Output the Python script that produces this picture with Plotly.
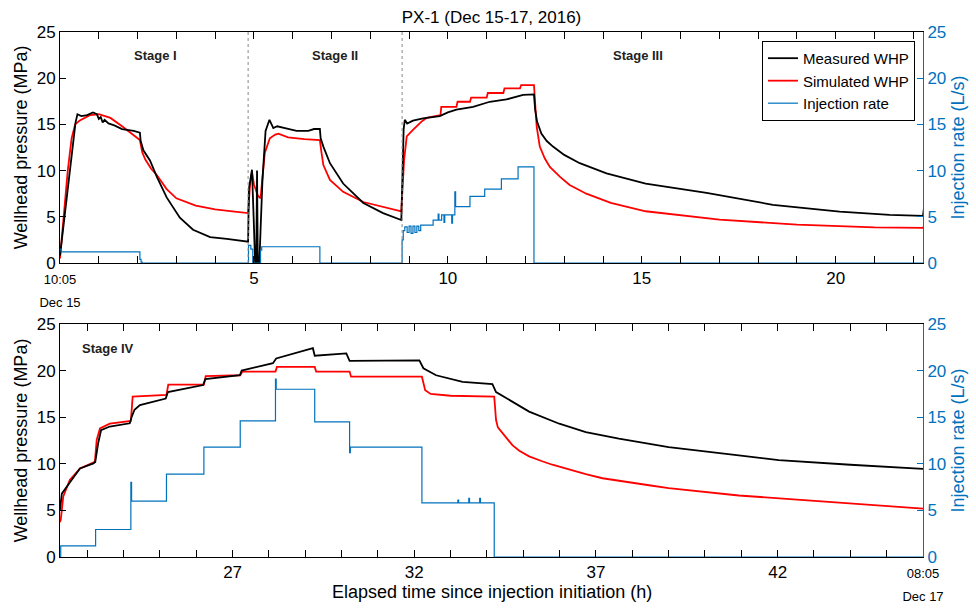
import plotly.graph_objects as go

# ---------------- data (elapsed hours since 10:05 Dec 15) ----------------
meas_t = [0.0, 0.1, 0.2, 0.3, 0.4, 0.45, 0.55, 0.7, 0.85, 0.95, 1.0, 1.05, 1.1, 1.15, 1.25, 1.4, 1.6, 1.9, 2.06,
          2.08, 2.15, 2.32, 2.5, 2.75, 3.09, 3.43, 3.87, 4.3, 4.85,
          4.87, 4.95, 5.0, 5.03, 5.06, 5.08, 5.1, 5.14, 5.17, 5.22, 5.3, 5.4, 5.5, 5.6, 5.8, 6.1, 6.4, 6.55, 6.7,
          6.72, 6.79, 6.96, 7.3, 7.82, 8.33, 8.8,
          8.86, 8.89, 8.95, 9.1, 9.36, 9.79, 10.0, 10.22, 10.65, 11.08, 11.51, 11.94, 12.22,
          12.25, 12.3, 12.41, 12.55, 12.71, 13.0, 13.4, 14.09, 15.1, 16.67, 18.38, 20.1, 21.39, 22.25,
          22.27, 22.3, 22.52, 22.8, 23.17, 23.22, 23.3, 23.38, 23.62, 24.17, 24.22, 24.3, 24.45, 25.16, 25.22,
          26.19, 26.25, 27.2, 27.25, 28.11, 28.2, 28.84, 29.21, 29.26, 30.13, 30.22, 32.14, 32.25, 32.6, 33.33,
          34.15, 34.25, 34.7, 35.16, 35.99, 36.72, 37.63, 39.0, 40.93, 42.03, 44.0, 46.0]
meas_p = [0.8, 4.5, 8.5, 12.0, 15.2, 16.1, 15.9, 16.0, 16.3, 16.1, 15.6, 15.8, 15.2, 15.5, 15.1, 14.9, 14.5, 14.3, 14.1,
          13.2, 12.2, 11.1, 9.3, 7.1, 4.9, 3.6, 2.8, 2.6, 2.3,
          8.0, 10.1, 4.0, 0.0, 0.0, 10.0, 0.0, 0.0, 3.5, 9.0, 14.3, 15.5, 14.6, 14.8, 14.6, 14.3, 14.3, 14.5, 14.5,
          13.5, 12.6, 10.8, 8.6, 6.5, 5.4, 4.65,
          14.5, 15.5, 15.1, 15.4, 15.65, 15.9, 16.3, 16.6, 16.9, 17.45, 17.7, 18.2, 18.25,
          16.6, 15.3, 14.0, 13.2, 12.6, 11.7, 10.8, 9.7, 8.6, 7.6, 6.3, 5.55, 5.2, 5.1,
          5.75, 6.8, 8.0, 9.5, 10.05, 10.2, 12.2, 13.6, 14.0, 14.35, 15.0, 15.8, 16.3, 17.0, 17.7,
          18.45, 19.1, 19.5, 20.0, 20.8, 21.3, 22.0, 22.4, 21.6, 21.85, 21.05, 21.1, 20.25, 19.5, 18.8,
          18.55, 17.7, 16.7, 15.6, 14.3, 13.4, 12.7, 11.8, 10.9, 10.4, 9.9, 9.45]

sim_t = [0.0, 0.1, 0.2, 0.3, 0.39, 0.5, 0.77, 1.0, 1.3, 1.6, 2.06,
         2.12, 2.2, 2.35, 2.5, 2.75, 3.0, 3.5, 4.0, 4.5, 4.85,
         4.9, 4.95, 5.0, 5.1, 5.17, 5.22, 5.28, 5.41, 5.55, 5.63, 5.88, 6.3, 6.7,
         6.74, 6.79, 6.96, 7.3, 7.82, 8.33, 8.8,
         8.87, 8.94, 9.1, 9.32, 9.45, 9.81, 9.83, 10.22, 10.25, 10.57, 10.6, 11.0, 11.03, 11.43, 11.46, 11.86, 11.89, 12.22,
         12.29, 12.37, 12.5, 12.63, 12.9, 13.14, 13.57, 14.2, 15.1, 17.0, 19.0, 21.0, 22.25,
         22.27, 22.34, 22.52, 22.8, 23.21, 23.26, 23.35, 23.62, 24.2, 24.25, 25.18, 25.23, 26.21, 26.26, 27.21, 27.27,
         28.18, 28.22, 29.26, 29.3, 30.22, 30.26, 32.21, 32.3, 32.45, 33.0, 34.2, 34.25, 34.3, 34.43, 34.7, 34.89, 35.16,
         35.5, 35.8, 36.72, 37.18, 38.46, 39.0, 40.93, 42.03, 44.0, 46.0]
sim_p = [0.5, 5.0, 10.0, 13.5, 15.0, 15.4, 16.0, 16.1, 15.7, 14.8, 13.3,
         12.0, 11.2, 10.2, 9.5, 8.0, 7.0, 6.2, 5.8, 5.55, 5.4,
         8.5, 9.9, 8.5, 7.3, 7.0, 9.5, 11.9, 13.5, 13.9, 14.0, 13.6, 13.4, 13.3,
         12.0, 10.6, 9.0, 7.7, 6.6, 6.1, 5.6,
         11.1, 13.7, 14.4, 15.3, 15.7, 16.0, 16.9, 16.9, 17.45, 17.45, 17.9, 17.9, 18.4, 18.4, 18.9, 18.9, 19.26, 19.26,
         14.75, 12.6, 11.3, 10.4, 9.3, 8.44, 7.5, 6.5, 5.6, 4.7, 4.15, 3.85, 3.8,
         3.97, 6.5, 8.26, 9.5, 10.2, 12.55, 13.8, 14.3, 14.6, 17.2, 17.4, 18.5, 18.5, 19.4, 19.5, 19.9,
         19.9, 20.4, 20.4, 19.9, 19.9, 19.35, 19.35, 17.9, 17.5, 17.3, 17.2, 14.7, 13.9, 13.3, 12.0, 11.4, 10.8,
         10.3, 9.9, 8.9, 8.45, 7.7, 7.4, 6.6, 6.3, 5.7, 5.2]

rate_t = [0.0, 0.03, 2.06, 2.09, 2.12,
          4.86, 4.92, 4.97, 5.17, 5.2, 6.7,
          8.82, 8.85, 8.89, 8.95, 9.0, 9.05, 9.1, 9.15, 9.2, 9.25, 9.3, 9.62, 9.75, 9.77, 9.84, 9.9, 9.92,
          10.1, 10.12, 10.18, 10.2, 10.57, 10.95, 11.38, 11.81, 12.22,
          22.27, 23.23, 24.2, 24.22, 25.18, 26.21, 27.21, 28.18, 28.2, 29.26, 30.22, 30.24, 32.21,
          33.2, 33.22, 33.5, 33.52, 33.8, 33.82, 34.2, 46.0]
rate_q = [1.5, 1.2, 0.4, 0.1, 0.0,
          1.9, 1.5, 0.0, 1.4, 1.76, 0.0,
          2.5, 3.5, 3.9, 3.3, 4.0, 3.2, 4.0, 3.3, 4.0, 3.5, 4.1, 4.65, 5.3, 4.65, 5.2, 4.4, 5.2,
          4.3, 5.2, 7.7, 6.1, 7.2, 8.0, 9.1, 10.4, 0.0,
          1.2, 2.95, 8.0, 6.0, 8.9, 11.8, 14.6, 19.1, 18.0, 14.5, 11.2, 11.8, 5.8,
          6.1, 5.8, 6.3, 5.8, 6.3, 5.8, 0.0, 0.0]

top_tick_vals = list(range(0, 23))
top_tick_labels = {0: "<span style='font-size:13px'>10:05<br>Dec 15</span>", 5: "5", 10: "10", 15: "15", 20: "20"}
bot_tick_vals = list(range(23, 47))
bot_tick_labels = {27: "27", 32: "32", 37: "37", 42: "42", 46: "<span style='font-size:13px'>08:05<br>Dec 17</span>"}
stage_breaks = [4.85, 8.82]
stage_names = ["Stage I", "Stage II", "Stage III", "Stage IV"]
stage_label_t = [2.46, 7.1, 14.9, 23.57]
y_ticks = [0, 5, 10, 15, 20, 25]

BLUE = "#0072BD"
FONT = "Liberation Sans, Arial, sans-serif"

fig = go.Figure()

for xa, ya, ya2, show in [("x", "y", "y2", True), ("x2", "y3", "y4", False)]:
    fig.add_trace(go.Scatter(x=rate_t, y=rate_q, mode="lines", line=dict(color=BLUE, width=1.2, shape="hv"),
                             name="Injection rate", xaxis=xa, yaxis=ya2, showlegend=show, legendrank=3))
    fig.add_trace(go.Scatter(x=sim_t, y=sim_p, mode="lines", line=dict(color="#FF0000", width=1.8),
                             name="Simulated WHP", xaxis=xa, yaxis=ya, showlegend=show, legendrank=2))
    fig.add_trace(go.Scatter(x=meas_t, y=meas_p, mode="lines", line=dict(color="#000000", width=1.8),
                             name="Measured WHP", xaxis=xa, yaxis=ya, showlegend=show, legendrank=1))

xcommon = dict(showline=True, linecolor="black", linewidth=1, mirror="ticks", ticks="inside", ticklen=7,
               tickcolor="black", showgrid=False, zeroline=False, tickfont=dict(size=17, color="black"),
               automargin=False)
ycommon = dict(range=[0, 25], tickvals=y_ticks, showline=True, linewidth=1, ticks="inside", ticklen=6,
               showgrid=False, zeroline=False, automargin=False)

fig.update_layout(
    width=976, height=613, plot_bgcolor="white", paper_bgcolor="white",
    margin=dict(l=60, r=53, t=32, b=56, autoexpand=False),
    font=dict(family=FONT, size=17, color="black"),
    title=dict(text="PX-1 (Dec 15-17, 2016)", x=0.5, xref="paper", y=1 - 17 / 613, yref="container",
               yanchor="middle", xanchor="center", font=dict(size=17)),
    xaxis=dict(domain=[0, 1], range=[0, 22.25], anchor="y", tickvals=top_tick_vals,
               ticktext=[top_tick_labels.get(v, "") for v in top_tick_vals], **xcommon),
    yaxis=dict(domain=[0.56, 1], anchor="x", linecolor="black", tickcolor="black",
               title=dict(text="Wellhead pressure (MPa)", font=dict(size=18), standoff=4), **ycommon),
    yaxis2=dict(overlaying="y", side="right", anchor="x", linecolor=BLUE, tickcolor=BLUE,
                tickfont=dict(color=BLUE), title=dict(text="Injection rate (L/s)", font=dict(size=18, color=BLUE), standoff=6),
                **ycommon),
    xaxis2=dict(domain=[0, 1], range=[22.25, 46], anchor="y3", tickvals=bot_tick_vals,
                ticktext=[bot_tick_labels.get(v, "") for v in bot_tick_vals], **xcommon),
    yaxis3=dict(domain=[0, 0.4438], anchor="x2", linecolor="black", tickcolor="black",
                title=dict(text="Wellhead pressure (MPa)", font=dict(size=18), standoff=4), **ycommon),
    yaxis4=dict(overlaying="y3", side="right", anchor="x2", linecolor=BLUE, tickcolor=BLUE,
                tickfont=dict(color=BLUE), title=dict(text="Injection rate (L/s)", font=dict(size=18, color=BLUE), standoff=6),
                **ycommon),
    legend=dict(x=0.9907, xanchor="right", y=0.983, yanchor="top", bgcolor="white", bordercolor="black",
                borderwidth=1, font=dict(size=15), tracegroupgap=0, itemwidth=30),
)

fig.add_annotation(x=0.5, y=-35 / 525, xref="paper", yref="paper", yanchor="middle", showarrow=False,
                   text="Elapsed time since injection initiation (h)", font=dict(size=18))

for t in stage_breaks:
    fig.add_shape(type="line", x0=t, x1=t, y0=0, y1=1, xref="x", yref="y domain",
                  line=dict(color="#888888", width=1, dash="dot"))

for i, (name, t) in enumerate(zip(stage_names, stage_label_t)):
    fig.add_annotation(x=t, y=22.5 if i < 3 else 22.4, xref="x" if i < 3 else "x2", yref="y" if i < 3 else "y3",
                       text="<b>%s</b>" % name, showarrow=False, font=dict(size=13, color="#222222"))

fig.write_html("out.html", config={"displayModeBar": False},
               post_script="document.body.style.margin='0px';")
